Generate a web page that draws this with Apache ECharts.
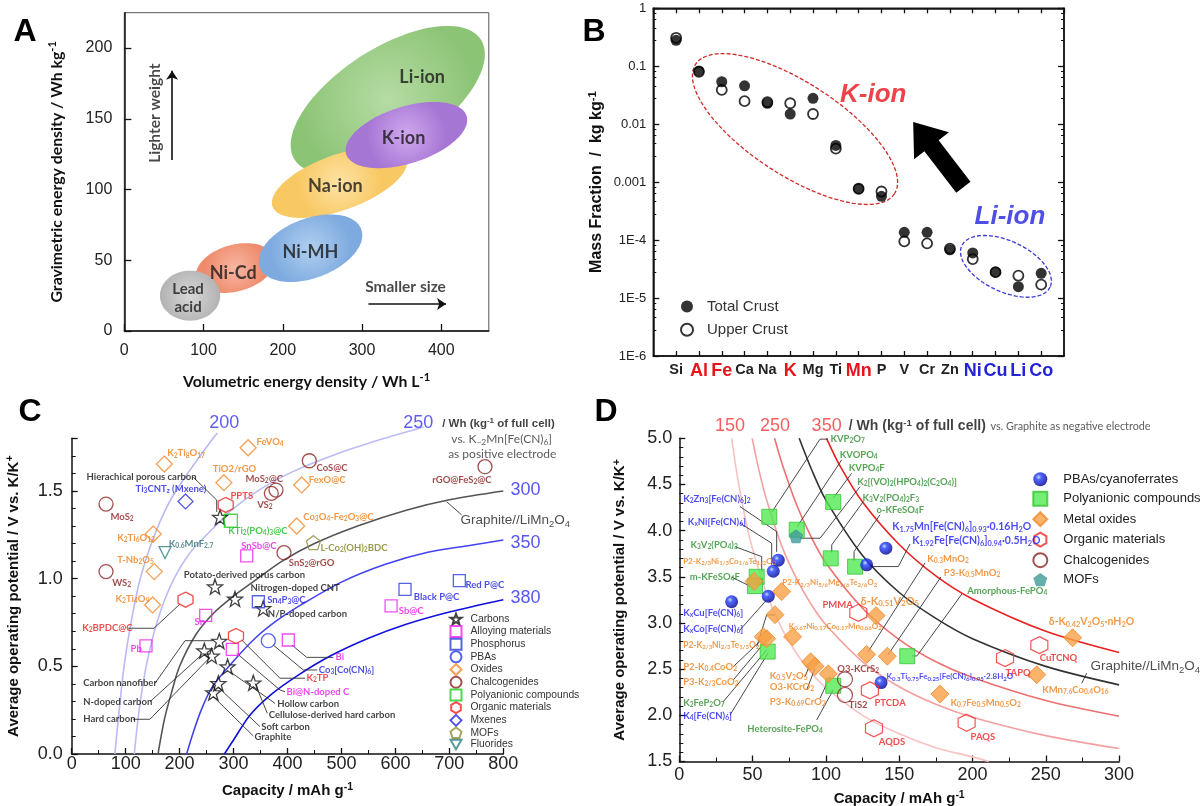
<!DOCTYPE html>
<html><head><meta charset="utf-8">
<script src="https://cdn.jsdelivr.net/npm/echarts@6/dist/echarts.min.js"></script>
<style>html,body{margin:0;padding:0;background:#fff}#c{width:1203px;height:806px}</style>
</head><body><div id="c"></div>
<script>
// ================= DATA =================
// ---- Panel A : battery chemistries (ellipse major-axis endpoints in Wh/L, Wh/kg) ----
const chemistriesA = ['Li-ion','Na-ion','K-ion','Ni-Cd','Ni-MH','Lead acid'];
const ellipseAxisA = [[215,121,450,206],[187,88,356,122],[280,125,432,152],[91,37,189,52],[171,45,299,72],[45,25,121,25]];
const ellipseRatioA = [0.46,0.39,0.45,0.58,0.55,0.83];

// ---- Panel B : crustal abundance ----
const elementsB = ['Si','Al','Fe','Ca','Na','K','Mg','Ti','Mn','P','V','Cr','Zn','Ni','Cu','Li','Co'];
const totalCrust = [0.28,0.083,0.054,0.046,0.023,0.015,0.028,0.0043,0.00077,0.00057,0.000136,0.000136,0.000068,0.00006,0.000028,0.0000157,0.0000267];
const upperCrust = [0.31,0.080,0.039,0.025,0.024,0.023,0.015,0.0038,0.00077,0.00069,0.000095,0.000088,0.000071,0.000047,0.000028,0.0000243,0.000017];
const redElements = ['Al','Fe','K','Mn'];
const blueElements = ['Ni','Cu','Li','Co'];
const yTickLabelsB = {'0':'1','-1':'0.1','-2':'0.01','-3':'0.001','-4':'1E-4','-5':'1E-5','-6':'1E-6'};
const groupEllipsesB = [[0.85,0.108,9.57,0.00063],[12.52,8.0e-5,16.39,1.55e-5]];
const groupRatioB = [0.39,0.52];
const arrowB = [[12.59,8.2e-4,10.39,0.0109]];

// ---- Panel C : anode materials (capacity mAh/g, potential V) ----
const carbonsC = [[275,1.35],[265.6,0.954],[302.7,0.884],[355,0.83],[273.6,0.644],[245.8,0.589],[259.5,0.559],[289,0.498],[336.6,0.406],[271.8,0.403],[262.5,0.35]];
const alloyingC = [[324.4,1.13],[248.4,0.79],[137.7,0.616],[297.7,0.597],[401.5,0.65],[592,0.844]];
const phosphorusC = [[346,0.868],[617.8,0.939],[718.5,0.988]];
const pbasC = [[364.4,0.646]];
const oxidesC = [[171.7,1.653],[151,1.254],[153,1.04],[150,0.85],[327,1.746],[282,1.547],[426.3,1.534],[417,1.30]];
const chalcogenidesC = [[63.6,1.425],[63.6,1.04],[378.7,1.505],[370,1.486],[440.4,1.672],[766,1.638],[393.5,1.148]];
const polyanionicC = [[295,1.33]];
const organicC = [[285.4,1.42],[211,0.88],[304.5,0.673]];
const mxenesC = [[211,1.44]];
const mofsC = [[448,1.205]];
const fluoridesC = [[173,1.148]];
const curve200C = [[80,0],[88,0.25],[97,0.5],[110,0.75],[127,1.0],[150,1.22],[180,1.43],[215,1.6],[262,1.8],[270,1.83]];
const curve250C = [[116,0],[125,0.25],[138,0.5],[158,0.75],[185,0.97],[220,1.15],[260,1.28],[300,1.4],[350,1.51],[410,1.61],[500,1.72],[580,1.8],[652,1.865]];
const curve300C = [[160,0],[172,0.2],[185,0.35],[200,0.5],[230,0.68],[262,0.8],[300,0.9],[340,0.99],[390,1.1],[450,1.2],[530,1.3],[620,1.39],[700,1.45],[800,1.5]];
const curve350C = [[213,0],[225,0.12],[240,0.25],[260,0.38],[300,0.53],[340,0.66],[380,0.76],[425,0.85],[500,0.98],[580,1.08],[660,1.15],[740,1.19],[800,1.22]];
const curve380C = [[283,0],[300,0.08],[330,0.22],[370,0.34],[420,0.45],[480,0.56],[550,0.66],[620,0.74],[700,0.81],[800,0.88]];

// ---- Panel D : cathode materials ----
const pbasD = [[67.5,3.68],[64.1,3.56],[60.7,3.29],[35.7,3.23],[127.8,3.63],[140.9,3.81],[137.6,2.355]];
const polyanionicD = [[61.4,4.15],[80.1,4.01],[105,4.31],[103.3,3.70],[119.9,3.61],[52.8,3.50],[51.6,3.40],[60.3,2.69],[105,2.32],[155.5,2.64]];
const oxidesD = [[51,3.45],[69.8,3.34],[65.3,3.09],[77.3,2.85],[57.3,2.85],[59.6,2.83],[89.6,2.58],[92.6,2.53],[101.6,2.45],[134.2,3.08],[127.8,2.66],[141.9,2.64],[268.3,2.84],[243.8,2.44],[177.8,2.23]];
const organicD = [[122.1,3.11],[130,2.27],[132.8,1.86],[222.2,2.62],[245.6,2.76],[196,1.92]];
const chalcogenidesD = [[113,2.39],[113,2.22]];
const mofsD = [[79.6,3.94]];
const curve150D = [[35.7,5.0],[40,4.55],[45,4.13],[50,3.80],[60,3.30],[70,2.94],[80,2.67],[90,2.46],[100,2.30],[125,2.0],[150,1.80],[175,1.65],[200,1.55],[211,1.5]];
const curve200D = [[49.7,5.0],[55,4.61],[60,4.31],[70,3.83],[80,3.48],[90,3.2],[100,2.98],[125,2.58],[150,2.31],[175,2.12],[200,1.98],[250,1.78],[300,1.64]];
const curve250D = [[65,5.0],[70,4.73],[80,4.28],[90,3.93],[100,3.65],[125,3.16],[150,2.82],[175,2.58],[200,2.41],[250,2.16],[300,1.99]];
const curve350D = [[100.4,5.0],[110,4.69],[125,4.31],[150,3.85],[175,3.51],[200,3.26],[250,2.91],[300,2.68]];
const graphiteLmoD = [[81.8,5.0],[90,4.67],[100,4.33],[125,3.73],[150,3.33],[175,3.05],[200,2.83],[250,2.53],[300,2.33]];

// ================= STYLE / HELPERS =================
const FONT = "'Liberation Sans', Arial, sans-serif";
const LATO = "Lato, 'Open Sans', sans-serif";
const STAR='path://M50,0L61.8,33.8L97.6,34.5L69,56.2L79.4,90.5L50,70L20.6,90.5L31,56.2L2.4,34.5L38.2,33.8Z';
const HEX='path://M50,0L93.3,25L93.3,75L50,100L6.7,75L6.7,25Z';
const PENT='path://M50,0L97.6,34.5L79.4,90.5L20.6,90.5L2.4,34.5Z';
const TRI='path://M0,0L100,0L50,86.6Z';
const NONE='rgba(255,255,255,0)';

function rt(s){return s.replace(/_\{([^}]*)\}/g,'{b|$1}').replace(/\^\{([^}]*)\}/g,'{p|$1}');}
function tstyle(color, fs, fw, ff, fst){
  const base={color:color, fontSize:fs, fontWeight:fw||'normal', fontFamily:ff||FONT, fontStyle:fst||'normal'};
  return Object.assign({}, base, {lineHeight:Math.round(fs*1.2), rich:{
    b:Object.assign({}, base, {fontSize:Math.max(6,fs*0.7), lineHeight:fs*0.5, verticalAlign:'bottom'}),
    p:Object.assign({}, base, {fontSize:Math.max(6,fs*0.7), lineHeight:fs*0.5, verticalAlign:'top'})
  }});
}
function textSeries(name, xi, yi, items, dflt){
  return {name:name, type:'scatter', xAxisIndex:xi, yAxisIndex:yi, symbol:'circle', symbolSize:1, silent:true, clip:false, z:30,
    itemStyle:{color:'transparent'},
    data: items.map(function(it){
      const t=it[0], x=it[1], y=it[2], color=it[3]||dflt.color, align=it[4]||'left', fs=it[5]||dflt.fs, fw=it[6]||dflt.fw, ff=it[7]||dflt.ff, ex=it[8]||{};
      const txt=rt(t);
      return {value:[x,y], label:Object.assign({show:true, position: align==='left'?'right':(align==='right'?'left':'inside'), distance:0,
        rotate: ex.rotate||0, formatter:function(){return txt;}}, tstyle(color, fs, fw, ff, ex.fontStyle))};
    })};
}
function leaderSeries(name, xi, yi, polys){
  return {name:name, type:'lines', coordinateSystem:'cartesian2d', xAxisIndex:xi, yAxisIndex:yi, polyline:true, silent:true, z:6,
    lineStyle:{color:'#333', width:0.9, opacity:1}, data: polys.map(function(p){return {coords:p};})};
}
function curve(name, xi, yi, pts, color, clip){
  return {name:name, type:'line', xAxisIndex:xi, yAxisIndex:yi, data:pts, showSymbol:false, symbol:'none', smooth:0.3,
    lineStyle:{color:color, width:1.6}, silent:true, clip:clip, z:3};
}
function ellipsePts(api){
  const p1=api.coord([api.value(0),api.value(1)]), p2=api.coord([api.value(2),api.value(3)]), r=api.value(4);
  const cx=(p1[0]+p2[0])/2, cy=(p1[1]+p2[1])/2, dx=p2[0]-p1[0], dy=p2[1]-p1[1];
  const a=Math.hypot(dx,dy)/2, b=a*r, th=Math.atan2(dy,dx), pts=[];
  for(let i=0;i<96;i++){const t=i/96*2*Math.PI, ex=a*Math.cos(t), ey=b*Math.sin(t);
    pts.push([cx+ex*Math.cos(th)-ey*Math.sin(th), cy+ex*Math.sin(th)+ey*Math.cos(th)]);}
  return pts;
}
function merge(a,b){const o=Object.assign({},a);for(const k in b){if(b[k]&&typeof b[k]==='object'&&!Array.isArray(b[k])&&a[k]&&typeof a[k]==='object'){o[k]=merge(a[k],b[k]);}else o[k]=b[k];}return o;}
const baseAxis = {
  type:'value', nameLocation:'middle', nameMoveOverlap:false,
  axisLine:{show:true, onZero:false, lineStyle:{color:'#111', width:1.5}},
  axisTick:{show:true, inside:true, length:6, lineStyle:{color:'#111', width:1.3}},
  minorTick:{show:false, length:3, lineStyle:{color:'#111', width:1}},
  splitLine:{show:false}, minorSplitLine:{show:false},
  axisLabel:{color:'#222', fontFamily:FONT, fontSize:16, hideOverlap:false}
};

// colors
const fillA = [['#b6dca4','#8cc476'],['#fde2a4','#f8c862'],['#d0a8ef','#a676d4'],['#f7b7a2','#ee8b6c'],['#b0cff0','#7eaadf'],['#d8d8d8','#b2b2b2']]
  .map(function(c){return {type:'radial',x:0.5,y:0.5,r:0.6,colorStops:[{offset:0,color:c[0]},{offset:1,color:c[1]}]};});

const C_STYLE = [
  ['Carbons', carbonsC, STAR, 15, '#111'],
  ['Alloying materials', alloyingC, 'rect', 12, '#ee22ee'],
  ['Phosphorus', phosphorusC, 'rect', 12, '#2a3fd8'],
  ['PBAs', pbasC, 'circle', 14, '#2a3fe8'],
  ['Oxides', oxidesC, 'diamond', 16, '#f28a2a'],
  ['Chalcogenides', chalcogenidesC, 'circle', 14, '#8b2525'],
  ['Polyanionic compounds', polyanionicC, 'rect', 13, '#22cc22'],
  ['Organic materials', organicC, HEX, 15, '#ee2222'],
  ['Mxenes', mxenesC, 'diamond', 15, '#2a2ae0'],
  ['MOFs', mofsC, PENT, 14, '#8f8f3a'],
  ['Fluorides', fluoridesC, TRI, 12, '#2f7f7f']
];
const sphere = {type:'radial',x:0.38,y:0.35,r:0.65,colorStops:[{offset:0,color:'#c8ceff'},{offset:0.3,color:'#2040ff'},{offset:1,color:'#000090'}]};
const D_STYLE = [
  ['Polyanionic compounds ', polyanionicD, 'rect', 15, {color:'#52ea52', borderColor:'#34c434', borderWidth:1}],
  ['PBAs/cyanoferrates', pbasD, 'circle', 13, {color:sphere}],
  ['Metal oxides', oxidesD, 'diamond', 18, {color:'#f7a046', borderColor:'#f08a2a', borderWidth:1}],
  ['Organic materials ', organicD, HEX, 17, {color:NONE, borderColor:'#f02a2a', borderWidth:1.2}],
  ['Chalcogenides ', chalcogenidesD, 'circle', 15, {color:NONE, borderColor:'#8b2525', borderWidth:1.2}],
  ['MOFs ', mofsD, PENT, 14, {color:'#3d9a9a'}]
];

// ---- annotations (text anchors in data units) ----
const OR='#f07f1a', DR='#8b1a1a', MG='#e81ce8', BL='#2020e0', RD='#ee2020', GR='#22bb22', OL='#7f7f22', TL='#2f6f6f', KK='#111', DG='#2b8f2b', DB='#1c1cf0';
const textsA = [
  ['Li-ion',375.9,179.2,'#1a1a1a','center',18],['K-ion',352.3,136.3,'#1a1a1a','center',18],['Na-ion',266.4,102.4,'#1a1a1a','center',18],
  ['Ni-MH',234.8,55.8,'#1a1a1a','center',18],['Ni-Cd',137.4,41,'#1a1a1a','center',18],['Lead\nacid',80.5,23.3,'#1a1a1a','center',15],
  ['Smaller size',354.9,31.1,'#1a1a1a','center',15.5],['Lighter weight',38.8,154,'#1a1a1a','center',15.5,null,null,{rotate:90}]
];
const arrowsA = [[[60.3,120.8],[60.3,184]],[[308.1,19.1],[406,19.1]]];
const textsB = [['K-ion',8.64,0.0316,'#e8141c','center',26,'bold',FONT,{fontStyle:'italic'}],['Li-ion',14.63,2.48e-4,'#2323e0','center',26,'bold',FONT,{fontStyle:'italic'}]];
const textsC = [
 ['K_{2}Ti_{8}O_{17}',176.1,1.714,OR],['Ti_{3}CNT_{z} (Mxene)',117.3,1.509,BL],['Hierachical porous carbon',26.5,1.578,KK],['MoS_{2}',71,1.353,DR],
 ['K_{2}Ti_{6}O_{13}',83.4,1.233,OR],['K_{0.6}MnF_{2.7}',179,1.197,TL],['T-Nb_{2}O_{5}',83.4,1.106,OR],['WS_{2}',74.1,0.977,DR],
 ['K_{2}Ti_{4}O_{9}',80.3,0.882,OR],['K_{2}BPDC@C',18.5,0.717,RD],['Sn',226.7,0.751,MG],['Pb',108.1,0.597,MG],
 ['Carbon nanofiber',20.4,0.403,KK],['N-doped carbon',20.4,0.298,KK],['Hard carbon',20.4,0.198,KK],['FeVO_{4}',341.6,1.777,OR],
 ['TiO2/rGO',260.6,1.623,OR],['MoS_{2}@C',321.2,1.570,DR],['VS_{2}',342.9,1.42,DR],['PPTS',293.4,1.471,RD],
 ['KTi_{2}(PO_{4})_{3}@C',289.2,1.271,GR],['SnSb@C',313.3,1.188,MG],['SnS_{2}@rGO',401.5,1.087,DR],['Potato-derived porus carbon',206.9,1.019,KK],
 ['Nitrogen-doped CNT',330.5,0.945,KK],['Sn_{4}P_{3}@C',361.4,0.878,BL],['N/P-doped carbon',362.6,0.796,KK],['CoS@C',452.8,1.632,DR],
 ['FexO@C',438.6,1.562,OR],['Co_{3}O_{4}-Fe_{2}O_{3}@C',428.2,1.353,OR],['L-Co_{2}(OH)_{2}BDC',460.2,1.176,OL],['rGO@FeS_{2}@C',667.3,1.562,DR],
 ['Black P@C',633.2,0.897,BL],['Red P@C',729,0.963,BL],['Sb@C',605.4,0.817,MG],['Bi',488,0.551,MG],
 ['Co_{3}[Co(CN)_{6}]',457.1,0.479,BL],['K_{2}TP',434.3,0.432,RD],['Bi@N-doped C',397.2,0.355,MG],['Hollow carbon',380,0.283,KK],
 ['Cellulose-derived hard carbon',364.4,0.222,KK],['Soft carbon',350.3,0.152,KK],['Graphite',337.9,0.099,KK],
 ['200',282.9,1.885,'#3535f0','center',18,'normal',FONT],['250',642.4,1.885,'#3535f0','center',18,'normal',FONT],
 ['300',812.4,1.505,'#2a2af0','left',18,'normal',FONT],['350',812.4,1.205,'#2a2af0','left',18,'normal',FONT],['380',812.4,0.889,'#2a2af0','left',18,'normal',FONT],
 ['/ Wh (kg^{-1} of full cell)',685.8,1.881,'#111','left',11.5,'bold',FONT],
 ['vs. K_{~2}Mn[Fe(CN)_{6}]',797,1.794,'#333','center',12,'normal',LATO],['as positive electrode',798,1.711,'#333','center',12,'normal',LATO],
 ['Graphite//LiMn_{2}O_{4}',719.8,1.33,'#222','left',13.5,'normal',FONT]
];
const leadersC = [
 [[225.4,1.578],[268.8,1.448],[268.8,1.38]],[[104.9,0.717],[152.5,0.717],[200.7,0.855]],[[154.4,0.403],[210,0.646],[261.9,0.646]],
 [[145.1,0.298],[243.9,0.574]],[[114.2,0.198],[145.1,0.198],[256.3,0.551]],[[408.3,0.621],[435.6,0.551],[484.9,0.551]],
 [[373.7,0.621],[429.3,0.479],[455.2,0.479]],[[315.1,0.65],[386.1,0.432],[432.4,0.432]],[[305.8,0.574],[386.1,0.365],[395.4,0.355]],
 [[293.4,0.469],[376.8,0.289]],[[339.8,0.403],[362.6,0.232]],[[271.7,0.38],[349,0.156]],[[262.5,0.327],[336.6,0.103]],[[695.1,1.438],[722.9,1.363]]
];
const textsD = [
 ['KVP_{2}O_{7}',102.8,4.991,DG],['KVOPO_{4}',109.1,4.821,DG],['KVPO_{4}F',115.3,4.677,DG],['K_{2}[(VO)_{2}(HPO_{4})_{2}(C_{2}O_{4})]',121,4.523,DG],
 ['K_{3}V_{2}(PO_{4})_{2}F_{3}',124.6,4.355,DG],['o-KFeSO_{4}F',134.2,4.225,DG],
 ['K_{1.75}Mn[Fe(CN)_{6}]_{0.93}·0.16H_{2}O',144.9,4.046,DB,'left',10.5],['K_{1.92}Fe[Fe(CN)_{6}]_{0.94}·0.5H_{2}O',158.5,3.889,DB,'left',10.5],
 ['K_{0.3}MnO_{2}',168.8,3.691,OR],['P3-K_{0.5}MnO_{2}',180.1,3.539,OR],['Amorphous-FePO_{4}',196,3.35,DG],
 ['δ-K_{0.51}V_{2}O_{5}',123.3,3.236,OR,'left',11],['PMMA',118.7,3.196,RD,'right'],
 ['P2-K_{2/3}Ni_{5/6}Mg_{1/6}Te_{2/6}O_{2}',69.9,3.437,OR,'left',8],['K_{0.67}Ni_{0.17}Co_{0.17}Mn_{0.66}O_{2}',74.4,2.968,OR,'left',8],
 ['P2-K_{2/3}Ni_{1/3}Co_{1/6}Te_{1/2}O_{2}',2.3,3.672,OR,'left',8],['K_{2}Zn_{3}[Fe(CN)_{6}]_{2}',2.3,4.341,DB],['K_{x}Ni[Fe(CN)_{6}]',5.5,4.098,DB],
 ['K_{3}V_{2}(PO_{4})_{3}',7.3,3.846,DG],['m-KFeSO_{4}F',6.8,3.496,DG],['K_{x}Cu[Fe(CN)_{6}]',2.3,3.106,DB],['K_{x}Co[Fe(CN)_{6}]',2.3,2.932,DB],
 ['P2-K_{2/3}Ni_{2/3}Te_{1/3}O_{2}',2.3,2.762,OR,'left',8.5],['P2-K_{0.4}CoO_{2}',2.3,2.527,OR],['P3-K_{2/3}CoO_{2}',2.3,2.365,OR],
 ['K_{2}FeP_{2}O_{7}',2.3,2.137,DG],['K_{4}[Fe(CN)_{6}]',2.3,1.993,DB],['K_{0.5}V_{2}O_{5}',61.4,2.426,OR],['O3-KCrO_{2}',61.4,2.307,OR],
 ['P3-K_{0.69}CrO_{2}',61.4,2.148,OR],['O3-KCrS_{2}',107.4,2.499,DR],['TiS2',115.3,2.112,DR],['Heterosite-FePO_{4}',46,1.849,DG],
 ['PTCDA',132.8,2.137,RD],['AQDS',135.7,1.715,RD],['K_{0.3}Ti_{0.75}Fe_{0.25}[Fe(CN)_{6}]_{0.95}·2.8H_{2}O',141,2.419,DB,'left',8],
 ['TAPQ',222.2,2.462,RD],['CuTCNQ',245.6,2.618,RD],['δ-K_{0.42}V_{2}O_{5}·nH_{2}O',251.7,3.015,OR,'left',10.5],
 ['KMn_{7.6}Co_{0.4}O_{16}',247.2,2.275,OR],['K_{0.7}Fe_{0.5}Mn_{0.5}O_{2}',184.7,2.137,OR],['PAQS',198.3,1.762,RD],
 ['Graphite//LiMn_{2}O_{4}',280.2,2.527,'#222','left',13.5,'normal',FONT],
 ['150',34.6,5.135,'#f03434','center',18,'normal',FONT],['250',65.3,5.135,'#f03434','center',18,'normal',FONT],['350',100.5,5.135,'#f03434','center',18,'normal',FONT],
 ['/ Wh (kg^{-1} of full cell)',115.3,5.127,'#111','left',14,'bold',FONT],['vs. Graphite as negative electrode',212,5.127,'#333','left',10.8,'normal',LATO]
];
const leadersD = [
 [[101.4,4.991],[96,4.991],[63.2,4.203]],[[110.8,4.767],[80.3,4.041]],[[117.6,4.622],[105,4.352]],[[123.3,4.477],[96,3.918],[82.3,3.918]],
 [[125.5,4.315],[104,3.846],[104,3.759]],[[136.9,4.171],[119.2,3.773],[119.2,3.672]],[[157.4,3.856],[149.4,3.611],[131.4,3.611]],
 [[167.6,3.651],[128.7,2.686]],[[178.5,3.499],[142.3,2.654]],[[192.8,3.315],[162.1,2.643],[158.7,2.643]],
 [[41.4,4.261],[66.4,3.99],[66.4,3.77]],[[41.4,4.081],[63,3.864],[63,3.629]],[[38,3.827],[56.2,3.719],[56.2,3.553]],[[35.7,3.496],[49.4,3.391]],
 [[41.4,2.925],[59.6,3.25]],[[52.8,2.744],[59.6,3.087],[65.3,3.087]],[[36.8,2.527],[57.3,2.835]],[[36.8,2.383],[59.6,2.816]],
 [[30,2.148],[59.6,2.708]],[[34.6,2.004],[60.7,2.679]],[[85.7,2.419],[89.6,2.564]],[[86.9,2.275],[92.6,2.51]],[[96,2.185],[102.8,2.419]],
 [[93.7,1.95],[105,2.275]],[[277.9,2.456],[274.5,2.347]]
];

// ================= SERIES =================
const series = [];
// Panel A
series.push({name:'_ellA', type:'custom', xAxisIndex:0, yAxisIndex:0, silent:true, z:2,
  renderItem:function(params, api){ return {type:'polygon', shape:{points:ellipsePts(api)}, style:{fill:api.visual('color')}}; },
  data: chemistriesA.map(function(n,i){return {name:n, value:ellipseAxisA[i].concat([ellipseRatioA[i]]), itemStyle:{color:fillA[i]}};})});
series.push(textSeries('_txtA',0,0,textsA,{color:'#1a1a1a',fs:18,fw:'bold',ff:LATO}));
series.push({name:'_arrA', type:'lines', coordinateSystem:'cartesian2d', xAxisIndex:0, yAxisIndex:0, polyline:false, silent:true, z:8,
  symbol:['none','arrow'], symbolSize:[6,9], lineStyle:{color:'#111', width:1.6, opacity:1}, data:arrowsA.map(function(c){return {coords:c};})});
// Panel B
series.push({name:'_ellB', type:'custom', xAxisIndex:1, yAxisIndex:1, silent:true, z:2,
  renderItem:function(params, api){ const pts=ellipsePts(api); pts.push(pts[0]); return {type:'polyline', shape:{points:pts}, style:{fill:null, stroke:api.visual('color'), lineWidth:1.3, lineDash:[4,2]}}; },
  data: groupEllipsesB.map(function(e,i){return {value:e.concat([groupRatioB[i]]), itemStyle:{color:i===0?'#d42a2a':'#3a3ad8'}};})});
series.push({name:'_arrowB', type:'custom', xAxisIndex:1, yAxisIndex:1, silent:true, z:3,
  renderItem:function(params, api){
    const p0=api.coord([api.value(0),api.value(1)]), p1=api.coord([api.value(2),api.value(3)]);
    const dx=p1[0]-p0[0], dy=p1[1]-p0[1], L=Math.hypot(dx,dy), ux=dx/L, uy=dy/L, nx=-uy, ny=ux, hl=30, hw=22, sw=9;
    const bx=p1[0]-ux*hl, by=p1[1]-uy*hl;
    return {type:'polygon', shape:{points:[[p0[0]+nx*sw,p0[1]+ny*sw],[bx+nx*sw,by+ny*sw],[bx+nx*hw,by+ny*hw],p1,[bx-nx*hw,by-ny*hw],[bx-nx*sw,by-ny*sw],[p0[0]-nx*sw,p0[1]-ny*sw]]}, style:{fill:'#000'}};
  }, data: arrowB});
series.push({name:'Upper Crust', type:'scatter', xAxisIndex:1, yAxisIndex:1, symbol:'circle', symbolSize:10, z:10,
  itemStyle:{color:'#fff', borderColor:'#000', borderWidth:1.8}, data: upperCrust.map(function(v,i){return [i,v];})});
series.push({name:'Total Crust', type:'scatter', xAxisIndex:1, yAxisIndex:1, symbol:'circle', symbolSize:11, z:11,
  itemStyle:{color:'#000'}, data: totalCrust.map(function(v,i){return [i,v];})});
series.push(textSeries('_txtB',1,1,textsB,{color:'#e8141c',fs:26,fw:'bold',ff:FONT}));
// Panel C
series.push(curve('_c200',3,3,curve200C,'#b9b9f3',false));
series.push(curve('_c250',3,3,curve250C,'#bcbcf4',false));
series.push(curve('_c300',3,3,curve300C,'#555555',false));
series.push(curve('_c350',3,3,curve350C,'#4444ee',false));
series.push(curve('_c380',3,3,curve380C,'#1010dd',false));
series.push(leaderSeries('_ldC',3,3,leadersC));
C_STYLE.forEach(function(s){
  series.push({name:s[0], type:'scatter', xAxisIndex:3, yAxisIndex:3, symbol:s[2], symbolSize:s[3], data:s[1], z:10, silent:true,
    itemStyle:{color:NONE, borderColor:s[4], borderWidth:1.3}});
});
series.push(textSeries('_txtC',3,3,textsC,{color:'#111',fs:9.5,fw:'bold',ff:LATO}));
// Panel D
series.push(curve('_d150',4,4,curve150D,'#f8c2c2',true));
series.push(curve('_d200',4,4,curve200D,'#f4a0a0',true));
series.push(curve('_d250',4,4,curve250D,'#ee7070',true));
series.push(curve('_d350',4,4,curve350D,'#e82222',true));
series.push(curve('_dGL',4,4,graphiteLmoD,'#333333',true));
series.push(leaderSeries('_ldD',4,4,leadersD));
D_STYLE.forEach(function(s){
  series.push({name:s[0], type:'scatter', xAxisIndex:4, yAxisIndex:4, symbol:s[2], symbolSize:s[3], data:s[1], z:10, silent:true, itemStyle:s[4]});
});
series.push(textSeries('_txtD',4,4,textsD,{color:'#111',fs:9.5,fw:'bold',ff:LATO}));

// ================= AXES =================
const axisNameStyle = function(fs, ff){ return tstyle('#111', fs, 'bold', ff||FONT); };
const xAxes = [
  merge(baseAxis,{gridIndex:0, min:0, max:460, interval:100, name:rt('Volumetric energy density / Wh L^{-1}'), nameGap:41, nameTextStyle:axisNameStyle(15.8, LATO),
    axisTick:{length:7}, axisLabel:{margin:12, showMaxLabel:false, fontSize:16}}),
  merge(baseAxis,{gridIndex:1, min:-1, max:17, interval:1, axisTick:{length:5},
    axisLabel:{margin:6, showMinLabel:false, showMaxLabel:false, formatter:function(v){const i=Math.round(v); if(i<0||i>=elementsB.length) return ''; const e=elementsB[i];
      return redElements.indexOf(e)>=0?'{r|'+e+'}':(blueElements.indexOf(e)>=0?'{u|'+e+'}':'{k|'+e+'}');},
      rich:{r:{color:'#e8141c',fontSize:18,fontWeight:'bold',fontFamily:FONT}, u:{color:'#2323d8',fontSize:18,fontWeight:'bold',fontFamily:FONT}, k:{color:'#222',fontSize:14.5,fontWeight:'bold',fontFamily:FONT}}}}),
  merge(baseAxis,{gridIndex:1, position:'top', min:-1, max:17, interval:1, axisTick:{length:5}, axisLabel:{show:false}}),
  merge(baseAxis,{gridIndex:2, min:0, max:800, interval:100, name:rt('Capacity / mAh g^{-1}'), nameGap:28, nameTextStyle:axisNameStyle(15),
    minorTick:{show:true, splitNumber:2, length:4}, axisLabel:{margin:1, fontSize:18}}),
  merge(baseAxis,{gridIndex:3, min:0, max:300, interval:50, name:rt('Capacity / mAh g^{-1}'), nameGap:28, nameTextStyle:axisNameStyle(15),
    minorTick:{show:true, splitNumber:2, length:4}, axisLabel:{margin:5, fontSize:18}})
];
const yAxes = [
  merge(baseAxis,{gridIndex:0, min:0, max:225, interval:50, name:rt('Gravimetric energy density / Wh kg^{-1}'), nameGap:58, nameTextStyle:axisNameStyle(15.8, LATO),
    axisTick:{length:7}, axisLabel:{margin:12, showMaxLabel:false, fontSize:16}}),
  merge(baseAxis,{gridIndex:1, type:'log', logBase:10, min:1e-6, max:1, name:rt('Mass Fraction  /  kg kg^{-1}'), nameGap:47, nameTextStyle:axisNameStyle(16),
    axisTick:{length:6}, minorTick:{show:true, splitNumber:5, length:3},
    axisLabel:{margin:7, fontSize:13, formatter:function(v){return yTickLabelsB[String(Math.round(Math.log10(v)))]||'';}}}),
  merge(baseAxis,{gridIndex:1, type:'log', logBase:10, min:1e-6, max:1, position:'right', axisTick:{length:6}, minorTick:{show:true, splitNumber:5, length:3}, axisLabel:{show:false}}),
  merge(baseAxis,{gridIndex:2, min:0, max:1.8, interval:0.5, name:rt('Average operating potential / V vs. K/K^{+}'), nameGap:49, nameTextStyle:axisNameStyle(15),
    minorTick:{show:true, splitNumber:5, length:4}, axisLabel:{margin:9, fontSize:18, showMaxLabel:false, formatter:function(v){return v.toFixed(1);}}}),
  merge(baseAxis,{gridIndex:3, min:1.5, max:5, interval:0.5, name:rt('Average operating potential / V vs. K/K^{+}'), nameGap:50, nameTextStyle:axisNameStyle(15),
    minorTick:{show:true, splitNumber:5, length:4}, axisLabel:{margin:7, fontSize:18, formatter:function(v){return v.toFixed(1);}}})
];

const option = {
  backgroundColor:'#fff', animation:false,
  textStyle:{fontFamily:FONT},
  grid:[
    {left:124.3, top:12.7, width:364.5, height:318.3, show:true, borderColor:'#555', borderWidth:1, backgroundColor:'transparent', outerBoundsMode:'none', containLabel:false},
    {left:653.3, top:8.3, width:410.7, height:347.7, show:true, borderColor:'#222', borderWidth:1.5, backgroundColor:'transparent', outerBoundsMode:'none', containLabel:false},
    {left:71.7, top:438.3, width:431.6, height:315.7, outerBoundsMode:'none', containLabel:false},
    {left:679.3, top:438.3, width:439.8, height:323.2, outerBoundsMode:'none', containLabel:false}
  ],
  xAxis:xAxes, yAxis:yAxes,
  legend:[
    {data:['Total Crust','Upper Crust'], orient:'vertical', left:675, top:294, itemWidth:12, itemHeight:12, itemGap:8.3, selectedMode:false,
      textStyle:{fontSize:15, color:'#333', fontFamily:FONT, padding:[0,0,0,9]}},
    {data:C_STYLE.map(function(s){return s[0];}), orient:'vertical', left:444.5, top:607.8, itemWidth:11, itemHeight:11, itemGap:-0.3, selectedMode:false,
      textStyle:{fontSize:10.3, lineHeight:11, color:'#333', fontFamily:FONT, padding:[0,0,0,4]}},
    {data:['PBAs/cyanoferrates','Polyanionic compounds ','Metal oxides','Organic materials ','Chalcogenides ','MOFs '], orient:'vertical', left:1027.3, top:467.2,
      itemWidth:14, itemHeight:14, itemGap:4.5, selectedMode:false, textStyle:{fontSize:13, lineHeight:14, color:'#222', fontFamily:FONT, padding:[0,0,0,11]}}
  ],
  graphic:[['A',25,32],['B',594,32],['C',30,412],['D',606,412]].map(function(p){
    return {type:'text', x:p[1], y:p[2], z:100, style:{text:p[0], fontSize:32, fontWeight:'bold', fontFamily:FONT, fill:'#000', align:'center', verticalAlign:'middle', textAlign:'center', textVerticalAlign:'middle'}};
  }),
  series:series
};
const chart = echarts.init(document.getElementById('c'), null, {renderer:'canvas', width:1203, height:806});
chart.setOption(option);
</script>
</body></html>
